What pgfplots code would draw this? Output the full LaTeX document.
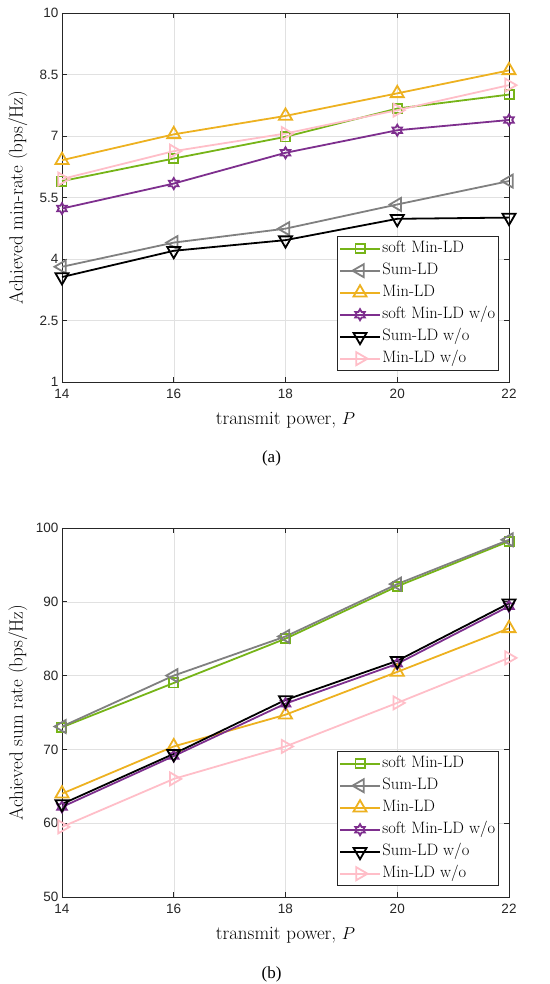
\documentclass[border=0pt]{standalone}
\usepackage{fontspec}
\usepackage{pgfplots}
\pgfplotsset{compat=1.18}
\newfontfamily\tickfont{Liberation Sans}
\newfontfamily\capfont{Liberation Serif}

\definecolor{cGreen}{RGB}{118,180,24}
\definecolor{cGray}{RGB}{128,128,128}
\definecolor{cOrange}{RGB}{237,177,32}
\definecolor{cPurple}{RGB}{126,47,142}
\definecolor{cPink}{RGB}{255,190,200}
\definecolor{cAxis}{RGB}{38,38,38}
\definecolor{cGrid}{RGB}{225,225,225}

% six-pointed star, like the matlab hexagram
\pgfdeclareplotmark{hexa}{%
  \pgfpathmoveto{\pgfpointpolar{90}{\pgfplotmarksize}}%
  \pgfpathlineto{\pgfpointpolar{120}{0.577\pgfplotmarksize}}%
  \pgfpathlineto{\pgfpointpolar{150}{\pgfplotmarksize}}%
  \pgfpathlineto{\pgfpointpolar{180}{0.577\pgfplotmarksize}}%
  \pgfpathlineto{\pgfpointpolar{210}{\pgfplotmarksize}}%
  \pgfpathlineto{\pgfpointpolar{240}{0.577\pgfplotmarksize}}%
  \pgfpathlineto{\pgfpointpolar{270}{\pgfplotmarksize}}%
  \pgfpathlineto{\pgfpointpolar{300}{0.577\pgfplotmarksize}}%
  \pgfpathlineto{\pgfpointpolar{330}{\pgfplotmarksize}}%
  \pgfpathlineto{\pgfpointpolar{0}{0.577\pgfplotmarksize}}%
  \pgfpathlineto{\pgfpointpolar{30}{\pgfplotmarksize}}%
  \pgfpathlineto{\pgfpointpolar{60}{0.577\pgfplotmarksize}}%
  \pgfpathclose\pgfusepathqstroke}

\pgfplotsset{
  ratestyle/.style={
    width=447pt, height=369pt, scale only axis,
    anchor=south west,
    xmin=14, xmax=22, xtick={14,16,18,20,22},
    axis line style={cAxis, line width=0.6pt},
    tick style={cAxis, line width=0.6pt},
    tick align=inside, major tick length=5pt,
    grid=major, major grid style={cGrid, line width=0.5pt},
    /pgf/number format/assume math mode=true,
    ticklabel style={font=\tickfont\fontsize{13.5}{15}\selectfont, text=cAxis},
    xticklabel style={yshift=-4pt},
    label style={font=\fontsize{19}{22}\selectfont},
    xlabel={transmit power, $P$},
    xlabel style={at={(axis description cs:0.5,-0.103)}, anchor=center},
    ylabel style={at={(axis description cs:-0.0985,0.5)}, anchor=center},
    legend cell align=left,
    legend style={at={(axis description cs:0.9776,0.0298)}, anchor=south east,
      draw=cAxis, line width=0.6pt, fill=white,
      font=\fontsize{16.5}{19}\selectfont,
      inner xsep=2pt, inner ysep=2.5pt, row sep=3pt,
      nodes={inner sep=1.5pt, text height=12pt, text depth=4pt}},
    legend image code/.code={%
      \draw[line width=1.8pt, mark repeat=2, mark phase=2] plot coordinates {(0pt,0pt) (20pt,0pt) (40pt,0pt)};},
  },
  sGreen/.style={color=cGreen, line width=1.8pt, mark=square, mark size=4.6pt, mark options={solid}},
  sGray/.style={color=cGray, line width=1.8pt, mark=triangle, mark size=7.5pt, mark options={solid, rotate=90}},
  sOrange/.style={color=cOrange, line width=1.8pt, mark=triangle, mark size=7.5pt, mark options={solid}},
  sPurple/.style={color=cPurple, line width=1.8pt, mark=hexa, mark size=5.5pt, mark options={solid}},
  sBlack/.style={color=black, line width=1.8pt, mark=triangle, mark size=7.5pt, mark options={solid, rotate=180}},
  sPink/.style={color=cPink, line width=1.8pt, mark=triangle, mark size=7.5pt, mark options={solid, rotate=-90}},
}

\begin{document}
\begin{tikzpicture}
\useasboundingbox (0pt,0pt) rectangle (549pt,984pt);

% (a) min-rate
\begin{axis}[ratestyle, at={(62pt,602pt)},
  ymin=1, ymax=10, ytick={1,2.5,4,5.5,7,8.5,10},
  ylabel={Achieved min-rate (bps/Hz)}]
\addplot[sGreen] coordinates {(14,5.90) (16,6.45) (18,6.98) (20,7.67) (22,8.01)};
\addlegendentry{soft Min-LD}
\addplot[sGray] coordinates {(14,3.81) (16,4.40) (18,4.74) (20,5.33) (22,5.90)};
\addlegendentry{Sum-LD}
\addplot[sOrange] coordinates {(14,6.41) (16,7.04) (18,7.49) (20,8.04) (22,8.60)};
\addlegendentry{Min-LD}
\addplot[sPurple] coordinates {(14,5.23) (16,5.84) (18,6.59) (20,7.14) (22,7.39)};
\addlegendentry{soft Min-LD w/o}
\addplot[sBlack] coordinates {(14,3.56) (16,4.20) (18,4.46) (20,4.98) (22,5.01)};
\addlegendentry{Sum-LD w/o}
\addplot[sPink] coordinates {(14,5.95) (16,6.63) (18,7.06) (20,7.63) (22,8.24)};
\addlegendentry{Min-LD w/o}
\end{axis}

% (b) sum rate
\begin{axis}[ratestyle, at={(62pt,87pt)},
  ymin=50, ymax=100, ytick={50,60,70,80,90,100},
  ylabel={Achieved sum rate (bps/Hz)}]
\addplot[sGreen] coordinates {(14,73.0) (16,79.0) (18,85.0) (20,92.1) (22,98.2)};
\addlegendentry{soft Min-LD}
\addplot[sGray] coordinates {(14,73.1) (16,80.0) (18,85.3) (20,92.4) (22,98.4)};
\addlegendentry{Sum-LD}
\addplot[sOrange] coordinates {(14,64.0) (16,70.4) (18,74.7) (20,80.5) (22,86.4)};
\addlegendentry{Min-LD}
\addplot[sPurple] coordinates {(14,62.2) (16,69.1) (18,76.2) (20,81.6) (22,89.4)};
\addlegendentry{soft Min-LD w/o}
\addplot[sBlack] coordinates {(14,62.6) (16,69.4) (18,76.7) (20,82.0) (22,89.8)};
\addlegendentry{Sum-LD w/o}
\addplot[sPink] coordinates {(14,59.5) (16,66.0) (18,70.4) (20,76.3) (22,82.4)};
\addlegendentry{Min-LD w/o}
\end{axis}

\node[font=\capfont\fontsize{17}{20}\selectfont] at (271.5pt,526pt) {(a)};
\node[font=\capfont\fontsize{17}{20}\selectfont] at (271.5pt,10pt) {(b)};
\end{tikzpicture}
\end{document}
